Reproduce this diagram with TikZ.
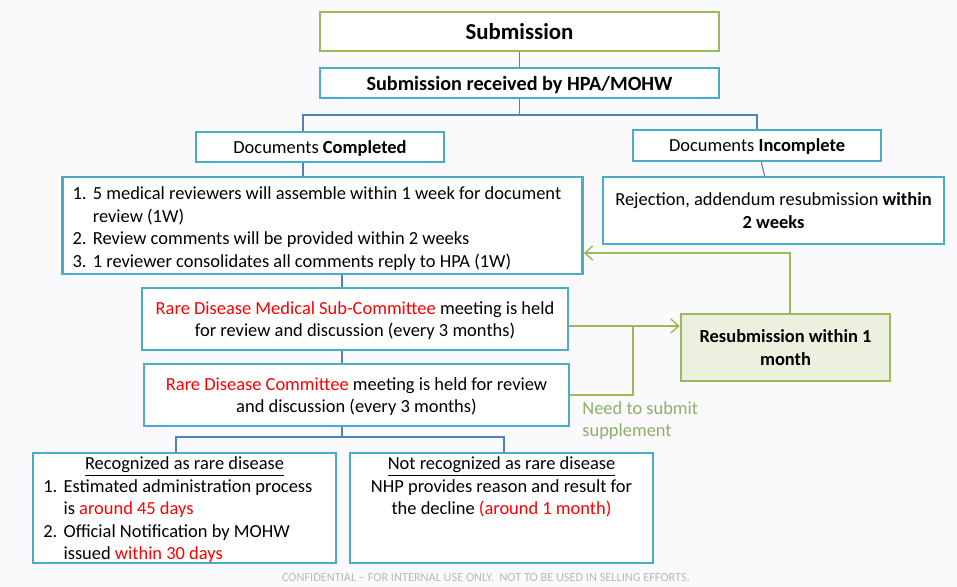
\documentclass[tikz,border=0pt]{standalone}
\usepackage{fontspec}
\setmainfont{Carlito}
\usepackage{tikz}
\usetikzlibrary{arrows.meta}
\definecolor{boxblue}{HTML}{4BACC6}
\definecolor{lineblue}{HTML}{4F81BD}
\definecolor{boxgreen}{HTML}{9BBB59}
\definecolor{fillgreen}{HTML}{EBF1DE}
\definecolor{notegreen}{HTML}{8FAE6A}
\definecolor{redtxt}{HTML}{FF0000}
\definecolor{bgcol}{HTML}{FAFAFC}
\tikzstyle{bbox} = [draw=boxblue, line width=1.4pt, fill=white, align=center, inner sep=0pt, font=\fontsize{10.5}{12.8}\selectfont]
\tikzstyle{tbox} = [bbox, text depth=0pt]
\tikzstyle{gbox} = [tbox, draw=boxgreen]
\tikzstyle{conn} = [draw=lineblue, line width=0.6pt]
\tikzstyle{gline} = [draw=boxgreen, line width=0.8pt]
\tikzstyle{garrow} = [gline, ->, >={Straight Barb[length=4.5pt,width=8pt]}]
\tikzset{sz/.style 2 args={minimum width=#1*0.02cm, minimum height=#2*0.02cm}}
\newcommand{\red}[1]{\textcolor{redtxt}{#1}}
\newcommand{\litem}[2]{\par\hangindent=1.1em\hangafter=1\noindent\makebox[1.1em][l]{#1}#2}

\begin{document}
\begin{tikzpicture}[x=0.02cm, y=-0.02cm]
  \useasboundingbox (0,0) rectangle (957,587);
  \fill[bgcol] (0,0) rectangle (957,587);
  % top of the flow
  \node[gbox, sz={399}{39}, font=\fontsize{13}{15}\selectfont\bfseries] (sub) at (519.5,31.5) {Submission};
  \node[tbox, sz={399}{30}, font=\fontsize{11.5}{14}\selectfont\bfseries] (recv) at (519.5,83) {Submission received by HPA/MOHW};
  \node[tbox, sz={248}{30}] (comp) at (320,147) {Documents \textbf{Completed}};
  \node[tbox, sz={248}{31}] (incomp) at (757,145.5) {Documents \textbf{Incomplete}};
  \node[bbox, sz={520}{97}] (rev) at (322.5,225.5) {\parbox{10cm}{\vspace*{3.4pt}\raggedright
    \litem{1.}{5 medical reviewers will assemble within 1 week for document\newline review (1W)}
    \litem{2.}{Review comments will be provided within 2 weeks}
    \litem{3.}{1 reviewer consolidates all comments reply to HPA (1W)}}};
  \node[bbox, sz={341}{67}] (rej) at (773.5,210.5) {Rejection, addendum resubmission \textbf{within}\\\textbf{2 weeks}};
  % committees
  \node[tbox, sz={426}{62}] (subc) at (355,319) {\red{Rare Disease Medical Sub-Committee} meeting is held\\for review and discussion (every 3 months)};
  \node[tbox, sz={425}{62}] (comm) at (356.5,395) {\red{Rare Disease Committee} meeting is held for review\\and discussion (every 3 months)};
  \node[gbox, sz={209}{67}, fill=fillgreen] (resub) at (785.5,347.5) {\textbf{Resubmission within 1}\\\textbf{month}};
  \node[font=\fontsize{10.5}{12.8}\selectfont, text=notegreen, align=left, anchor=north west, inner sep=0pt] (need) at (582,401) {Need to submit\\supplement};
  % results
  \node[bbox, sz={303}{110}] (yes) at (184.5,508) {\parbox[c][2.05cm][t]{5.65cm}{\centering\underline{Recognized as rare disease}\par\raggedright
    \litem{1.}{Estimated administration process\newline is \red{around 45 days}}
    \litem{2.}{Official Notification by MOHW\newline issued \red{within 30 days}}}};
  \node[bbox, sz={303}{110}] (no) at (501.5,508) {\parbox[c][2.05cm][t]{5.65cm}{\centering\underline{Not recognized as rare disease}\par
    NHP provides reason and result for\\the decline \red{(around 1 month)}}};
  \node[text=gray!55, font=\fontsize{7}{8}\selectfont, inner sep=0pt] (conf) at (486,578) {CONFIDENTIAL -- FOR INTERNAL USE ONLY.\ \ NOT TO BE USED IN SELLING EFFORTS.};
  % connectors
  \coordinate (cL) at (303,115);
  \coordinate (cR) at (757,115);
  \coordinate (cM) at (342,437);
  \coordinate (bL) at (176,437);
  \coordinate (bR) at (504,437);
  \draw[conn] (sub) -- (recv);
  \draw[conn] (recv.south) -- (recv.south |- cL);
  \draw[conn] (comp.north -| cL) -- (cL) -- (cR) -- (incomp.north);
  \draw[conn] (comp.south -| cL) -- (rev.north -| cL);
  \draw[conn] (incomp) -- (rej);
  \draw[conn] (rev.south -| cM) -- (subc.north -| cM);
  \draw[conn] (subc.south -| cM) -- (comm.north -| cM);
  \draw[conn] (comm.south -| cM) -- (cM);
  \draw[conn] (yes.north -| bL) -- (bL) -- (bR) -- (no.north -| bR);
  % resubmission loop
  \coordinate (g1) at (633,326);
  \coordinate (g2) at (790,253);
  \draw[garrow] (subc.east |- g1) -- (resub.west |- g1);
  \draw[gline] (comm.east) -| (g1);
  \draw[garrow] (resub.north -| g2) |- (rev.east |- g2);
\end{tikzpicture}
\end{document}
